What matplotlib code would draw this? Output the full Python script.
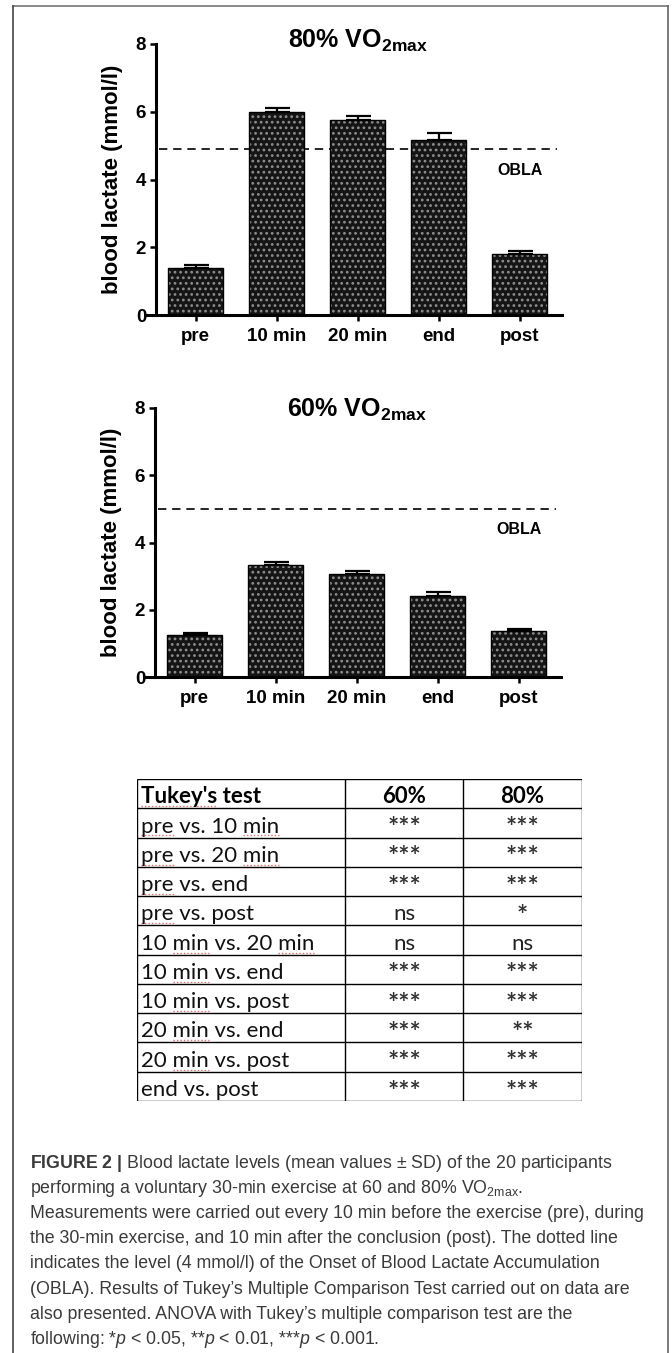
import numpy as np
import matplotlib
matplotlib.use('Agg')
import matplotlib.pyplot as plt
from matplotlib.lines import Line2D
from matplotlib.font_manager import FontProperties

W, H = 672, 1353

plt.rcParams['font.family'] = ['Liberation Sans', 'DejaVu Sans']
plt.rcParams['mathtext.fontset'] = 'custom'
plt.rcParams['mathtext.rm'] = 'Liberation Sans'
plt.rcParams['mathtext.it'] = 'Liberation Sans:italic'
plt.rcParams['mathtext.bf'] = 'Liberation Sans:bold'
plt.rcParams['hatch.linewidth'] = 1.2
plt.rcParams['axes.linewidth'] = 2.2

# ---------------- data ----------------
times = ['pre', '10 min', '20 min', 'end', 'post']

lactate_80 = [1.40, 5.98, 5.75, 5.18, 1.80]
sd_80 = [0.07, 0.12, 0.13, 0.19, 0.08]
lactate_60 = [1.25, 3.33, 3.05, 2.41, 1.38]
sd_60 = [0.05, 0.09, 0.09, 0.13, 0.04]
obla_80 = 4.9
obla_60 = 5.0

yticks = [0, 2, 4, 6, 8]

comparisons = ['pre vs. 10 min', 'pre vs. 20 min', 'pre vs. end', 'pre vs. post',
               '10 min vs. 20 min', '10 min vs. end', '10 min vs. post',
               '20 min vs. end', '20 min vs. post', 'end vs. post']
tukey_60 = ['***', '***', '***', 'ns', 'ns', '***', '***', '***', '***', '***']
tukey_80 = ['***', '***', '***', '*', 'ns', '***', '***', '**', '***', '***']
table_header = ["Tukey's test", '60%', '80%']

caption_lines = [
    r'$\mathbf{FIGURE\ 2\ |}$ Blood lactate levels (mean values $\pm$ SD) of the 20 participants',
    r'performing a voluntary 30-min exercise at 60 and 80% VO$_{\mathrm{2max}}$.',
    'Measurements were carried out every 10 min before the exercise (pre), during',
    'the 30-min exercise, and 10 min after the conclusion (post). The dotted line',
    'indicates the level (4 mmol/l) of the Onset of Blood Lactate Accumulation',
    "(OBLA). Results of Tukey\u2019s Multiple Comparison Test carried out on data are",
    "also presented. ANOVA with Tukey\u2019s multiple comparison test are the",
    r'following: *$p$ < 0.05, **$p$ < 0.01, ***$p$ < 0.001.',
]


def box(x0, y0, x1, y1):
    # pixel box (top-left origin) -> figure rect
    return [x0 / W, 1 - y1 / H, (x1 - x0) / W, (y1 - y0) / H]


fig = plt.figure(figsize=(W / 100, H / 100), dpi=100)


def bar_panel(rect, values, sds, obla, title, title_y, obla_y):
    ax = fig.add_axes(rect)
    x = np.arange(len(times))
    ax.bar(x, values, width=0.68, color='#151515', edgecolor='#8e8e8e',
           hatch='...', linewidth=0, zorder=2)
    ax.bar(x, values, width=0.68, fill=False, edgecolor='black', linewidth=1.0, zorder=3)
    ax.errorbar(x, values, yerr=[np.zeros(len(x)), sds], fmt='none', ecolor='black',
                elinewidth=1.6, capsize=9, capthick=1.6, zorder=4)
    ax.hlines(obla, -0.45, 4.46, colors='black', linestyles=(0, (5, 3.5)),
              linewidth=1.2, zorder=1)
    ax.text(4.0, obla_y, 'OBLA', ha='center', va='center', fontsize=11.5, fontweight='bold')
    ax.text(2.0, title_y, title, ha='center', va='baseline', fontsize=18,
            fontweight='bold', clip_on=False)

    ax.set_xlim(-0.6, 4.52)
    ax.set_ylim(0, 8)
    for s in ['top', 'right']:
        ax.spines[s].set_visible(False)
    ax.spines['left'].set_position(('data', -0.49))
    ax.spines['left'].set_bounds(0, 8)

    ax.set_yticks(yticks, [str(t) for t in yticks], fontweight='bold', fontsize=13.5)
    ax.set_xticks(x, times, fontweight='bold', fontsize=13.5)
    ax.tick_params(axis='y', length=4.5, width=1.8, pad=2.5)
    ax.tick_params(axis='x', length=4.5, width=1.8, pad=5)
    ax.set_ylabel('blood lactate (mmol/l)', fontsize=16, fontweight='bold')
    ax.yaxis.set_label_coords(-0.058, 0.5)
    return ax


bar_panel(box(147, 44, 562, 315), lactate_80, sd_80, obla_80,
          r'80% VO$_{\mathbf{2max}}$', 7.9, 4.28)
bar_panel(box(146, 408, 561, 677), lactate_60, sd_60, obla_60,
          r'60% VO$_{\mathbf{2max}}$', 7.75, 4.4)

# ---------------- table ----------------
col_edges = [0, 208, 326, 445]
n_rows = len(comparisons) + 1
tab = fig.add_axes(box(137, 779, 582, 1101))
tab.set_xlim(0, 445)
tab.set_ylim(n_rows, 0)
tab.axis('off')
tab.hlines(np.arange(n_rows + 1), 0, 445, colors='black', linewidth=1.0)
tab.vlines(col_edges, 0, n_rows, colors='black', linewidth=1.0)

fp = FontProperties(family='Lato', size=16)
fpb = FontProperties(family='Lato', size=16, weight='bold')
fps = FontProperties(family='Lato', size=19, weight='bold')
col_centers = [(col_edges[1] + col_edges[2]) / 2, (col_edges[2] + col_edges[3]) / 2]

tab.text(4, 0.83, table_header[0], fontproperties=fpb, va='baseline', ha='left')
tab.text(col_centers[0], 0.83, table_header[1], fontproperties=fpb, va='baseline', ha='center')
tab.text(col_centers[1], 0.83, table_header[2], fontproperties=fpb, va='baseline', ha='center')
for i, (lab, a, b) in enumerate(zip(comparisons, tukey_60, tukey_80)):
    yb = i + 1 + 0.83
    tab.text(4, yb, lab, fontproperties=fp, va='baseline', ha='left', color='#111111')
    for cx, val in zip(col_centers, [a, b]):
        if '*' in val:
            tab.text(cx, yb + 0.12, val, fontproperties=fps, va='baseline', ha='center',
                     color='#333333')
        else:
            tab.text(cx, yb, val, fontproperties=fp, va='baseline', ha='center', color='#222222')

# red spell-check squiggles under some words
renderer = fig.canvas.get_renderer()


def text_w(s, prop):
    return renderer.get_text_width_height_descent(s, prop, ismath=False)[0]


def squiggle(label, word, row, prop):
    start = label.find(word)
    while start >= 0:
        end = start + len(word)
        x1 = 4 + text_w(label[:end], prop)
        x0 = x1 - text_w(word, prop)
        tab.plot([x0, x1], [row + 0.93] * 2, color='#e04848', linestyle=(0, (1, 1.5)),
                 linewidth=1.0, alpha=0.8)
        start = label.find(word, end)


squiggle(table_header[0], "Tukey's", 0, fpb)
for i, lab in enumerate(comparisons):
    for wd in ['pre', 'min']:
        squiggle(lab, wd, i + 1, fp)

# ---------------- caption ----------------
for i, line in enumerate(caption_lines):
    fig.text(30 / W, 1 - (1168 + 25.1 * i) / H, line, fontsize=12.8, color='#3a3a3a',
             ha='left', va='baseline')

# ---------------- frame ----------------
fig.add_artist(Line2D([13 / W, 668 / W], [1 - 6 / H, 1 - 6 / H], color='#777777', linewidth=1.2))
fig.add_artist(Line2D([13 / W, 13 / W], [0, 1 - 6 / H], color='#444444', linewidth=1.2))
fig.add_artist(Line2D([668 / W, 668 / W], [0, 1 - 6 / H], color='#666666', linewidth=1.2))

fig.savefig('out.png', dpi=100)
